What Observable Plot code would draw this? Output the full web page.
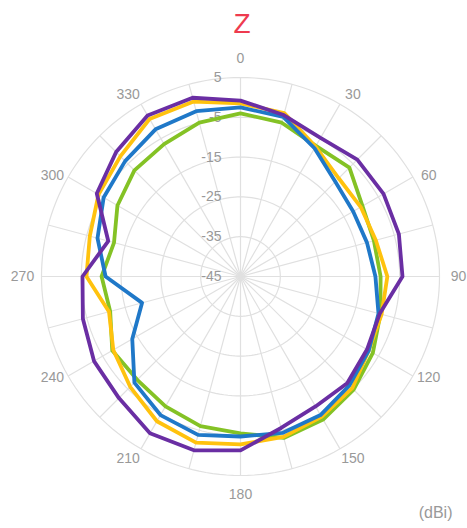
<!DOCTYPE html>
<html>
<head>
<meta charset="utf-8">
<script src="https://cdn.jsdelivr.net/npm/d3@7"></script>
<script src="https://cdn.jsdelivr.net/npm/@observablehq/plot@0.6"></script>
<style>
  body { margin: 0; background: #fff; }
  #title { position: relative; height: 42px; }
  #title span { position: absolute; top: 8px; left: 242px; transform: translateX(-50%);
    font: 28px "Liberation Sans", Arial, sans-serif; line-height: 1.149; color: #ee3b4f; }
</style>
</head>
<body>
<div id="title"><span>Z</span></div>
<div id="chart"></div>
<script>
// Angles (degrees, clockwise from top)
const angles = [0,15,30,45,60,75,90,105,120,135,150,165,180,195,210,225,240,255,270,285,300,315,330,345];
// Gain values (dBi) per series
const seriesG = [-4.0,-5.0,-7.1,-6.3,-9.6,-10.3,-9.8,-8.6,-6.6,-4.8,-3.5,-3.0,-5.6,-6.1,-7.3,-8.3,-7.8,-11.1,-10.1,-12.1,-9.3,-7.3,-6.6,-5.0];
const seriesY = [-1.5,-2.5,-7.3,-10.1,-10.1,-9.8,-8.1,-8.3,-7.8,-5.3,-4.3,-3.3,-2.8,-1.8,-3.0,-5.8,-8.1,-10.8,-6.3,-5.8,-3.8,-2.3,0.7,0.5];
const seriesB = [-2.5,-3.5,-7.8,-11.3,-12.3,-12.1,-11.1,-9.1,-7.8,-6.3,-4.8,-4.3,-4.8,-3.8,-4.8,-7.3,-13.6,-19.4,-11.1,-7.8,-5.3,-4.0,-2.3,-2.0];
const seriesP = [-0.8,-3.0,-4.8,-3.5,-3.5,-3.8,-4.3,-8.8,-8.3,-7.1,-7.3,-5.6,-1.3,0.2,0.5,-1.8,-2.5,-4.0,-5.3,-10.6,-3.3,-0.8,1.7,1.5];
const seriesNames = ["S1","S2","S3","S4"];
const seriesColors = ["#84c225","#ffc20e","#1f78c8","#6a2ea3"];
const radialTicks = [5,-5,-15,-25,-35,-45];
const gridRadii = [5,-5,-15,-25,-35];
const angleTicks = [0,30,60,90,120,150,180,210,240,270,300,330];
const spokes = d3.range(0,360,15);
const rMin = -45, rMax = 5;

const valuesBySeries = {S1: seriesG, S2: seriesY, S3: seriesB, S4: seriesP};
const data = seriesNames.flatMap(name => valuesBySeries[name].map((v,i) => ({series: name, angle: angles[i], dbi: v})));

const lon = a => 180 - a;
const lat = v => 90 - (v - rMin);
const outerDeg = rMax - rMin;
const rad = Math.PI / 180;
// angular tick label placement (slightly shifted like the original's anchoring)
const labelAngle = a => a + 2 * Math.sin(2 * a * rad);
const labelDist = a => outerDeg * (218 - 5 * Math.abs(Math.sin(2 * a * rad))) / 199;

const font = "Liberation Sans, Arial, sans-serif";
const plot = Plot.plot({
  width: 467,
  height: 486,
  marginLeft: 41, marginRight: 28, marginTop: 35, marginBottom: 53,
  projection: {
    type: "azimuthal-equidistant",
    rotate: [0, -90],
    clip: false,
    domain: d3.geoCircle().center([0, 90]).radius(outerDeg)()
  },
  color: {type: "ordinal", domain: seriesNames, range: seriesColors},
  style: {fontFamily: font, fontSize: "14px"},
  marks: [
    Plot.geo(gridRadii, {geometry: v => d3.geoCircle().center([0, 90]).radius(v - rMin)(), stroke: "#e0e0e0", strokeWidth: 1.2, fill: "none"}),
    Plot.link(spokes, {x1: a => lon(a), y1: 90, x2: a => lon(a), y2: 90 - outerDeg, stroke: "#e0e0e0", strokeWidth: 1.2}),
    Plot.text(radialTicks, {x: 180, y: v => lat(v), text: v => String(v), dx: -19, textAnchor: "end", fill: "#999"}),
    Plot.text(angleTicks, {x: a => lon(labelAngle(a)), y: a => 90 - labelDist(a), text: a => String(a), fill: "#999"}),
    Plot.line(data, {x: d => lon(d.angle), y: d => lat(d.dbi), z: "series", stroke: "series", curve: "linear-closed", strokeWidth: 3.8, strokeLinejoin: "round"}),
    Plot.text(["(dBi)"], {frameAnchor: "bottom-right", text: d => d, dx: 13, dy: 37, textAnchor: "end", lineAnchor: "middle", fill: "#999", fontSize: 16})
  ]
});
document.getElementById("chart").appendChild(plot);
</script>
</body>
</html>
